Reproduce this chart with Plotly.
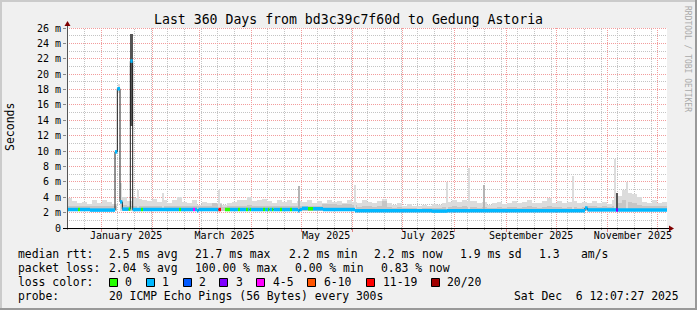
import math
import plotly.graph_objects as go
import pandas as pd

# ---------------- data ----------------
T0 = pd.Timestamp("2024-12-11 12:07:27")
T1 = pd.Timestamp("2025-12-06 12:07:27")
SPAN_DAYS = 360

LOSS_LABELS = ["0", "1", "2", "3", "4-5", "6-10", "11-19", "20/20"]
LOSS_COLORS = ["#26ff00", "#00b8ff", "#0059ff", "#7e00ff", "#ff00ff", "#ff5500", "#ff0000", "#a10000"]

# median rtt (ms) as segments: start (days after T0), value, loss class index
med_start = [0.0, 6.6, 7.8, 13.8, 28.8, 30.2, 31.8, 33.2, 36.9, 38.0, 39.4, 44.4, 45.6,
             67.2, 68.4, 75.6, 76.8, 78.0, 78.9, 90.9, 92.4, 94.8, 97.8, 102.6, 103.8,
             107.4, 108.6, 109.5, 110.4, 117.6, 118.8, 120.6, 121.5, 123.0, 123.9, 127.8,
             129.0, 133.8, 135.0, 138.6, 139.5, 141.0, 144.6, 147.6, 153.6, 172.8, 219.0,
             228.0, 310.8, 312.3, 329.4, 330.6]
med_value = [2.40, 2.40, 2.40, 2.33, 9.9, 18.1, 3.4, 2.45, 2.45, 21.7, 2.40, 2.40, 2.40,
             2.40, 2.40, 2.40, 2.40, 2.25, 2.40, 2.40, None, 2.40, 2.40, 2.40, 2.40,
             2.40, 2.40, 2.40, 2.40, 2.40, 2.40, 2.40, 2.40, 2.40, 2.40, 2.40,
             2.40, 2.40, 2.40, 2.25, 2.40, 2.55, 2.50, 2.50, 2.40, 2.25, 2.20,
             2.25, 2.60, 2.35, 2.35, 2.35]
med_loss = [1, 0, 1, 1, 1, 1, 1, 1, 0, 1, 1, 0, 1,
            0, 1, 4, 1, 1, 1, 6, None, 0, 1, 0, 1,
            0, 1, 0, 1, 0, 1, 0, 1, 0, 1, 0,
            1, 0, 1, 1, 1, 1, 0, 1, 1, 1, 1,
            1, 1, 1, 3, 1]

# smoke (ms), 3-day buckets
SMOKE_FLOOR = 2.15
smoke_top = [3.9, 3.5, 3.2, 3.4, 3.1, 3.6, 3.3, 3.7, 3.4, 3.1,
             None, 4.0, 3.5, 3.9, 3.8, 3.7, 3.5, 3.8, 3.4, 3.6,
             3.3, 3.6, 4.0, 3.4, 3.2, 3.7, 3.0, 3.4, 3.3, 3.2,
             3.3, 3.0, 3.3, 3.4, 3.7, 3.6, 4.0, 3.5, 3.6, 3.8,
             3.5, 3.3, 3.7, 3.4, 3.6, 3.3, 3.5, 3.4, 3.6, 3.2,
             3.5, 3.3, 3.6, 3.4, 3.5, 3.3, 3.6, 3.4, 3.3, 3.6,
             3.4, 3.2, 3.5, 3.8, 3.3, 3.0, 3.2, 2.9, 3.1, 2.9,
             2.8, 3.0, 2.9, 3.1, 3.0, 3.3, 3.4, 3.6, 3.4, 3.7,
             3.5, 3.5, 3.2, 3.4, 3.0, 3.2, 3.4, 3.1, 3.3, 3.5,
             3.2, 3.4, 3.6, 3.3, 3.2, 3.5, 3.9, 3.3, 3.5, 3.2,
             3.4, 3.5, 3.2, 3.4, 3.3, 3.5, 3.2, 3.4, 3.1, 3.6,
             4.2, 5.0, 4.6, 4.4, 4.0, 3.4, 3.3, 3.7, 3.2, 3.4]
smoke_mid = [2.9, 2.8, 2.8, 2.9, 2.8, 2.9, 2.8, 2.9, 2.8, 2.8,
             None, 3.0, 2.8, 2.9, 2.9, 2.8, 2.8, 2.9, 2.8, 2.9,
             2.8, 2.9, 2.9, 2.8, 2.8, 2.9, 2.8, 2.8, 2.9, 3.2,
             3.1, 2.7, 2.8, 2.8, 2.9, 2.9, 3.0, 2.8, 2.9, 2.9,
             2.8, 2.8, 2.9, 2.8, 2.9, 2.8, 2.9, 2.8, 2.9, 2.8,
             2.9, 3.1, 3.1, 3.1, 3.0, 3.1, 3.1, 3.0, 2.7, 2.8,
             2.8, 2.7, 2.8, 3.5, 2.7, 2.6, 2.7, 2.6, 2.6, 2.6,
             2.5, 2.6, 2.6, 2.6, 2.6, 2.7, 2.7, 2.8, 2.7, 2.8,
             2.7, 2.7, 2.6, 2.7, 2.6, 2.6, 2.7, 2.6, 2.7, 2.7,
             2.6, 2.7, 2.8, 2.7, 2.6, 2.7, 2.8, 2.7, 2.7, 2.6,
             2.7, 2.7, 2.6, 2.7, 2.8, 2.8, 2.7, 2.8, 2.7, 2.8,
             3.3, 3.6, 3.4, 3.2, 3.0, 2.8, 2.8, 2.9, 2.8, 2.8]

# thin smoke spikes: day, top (ms), shade index (0 light, 1 mid)
spike_day = [32.4, 42.6, 57.6, 91.2, 139.2, 172.8, 228.0, 241.2, 250.2, 303.6, 328.8, 336.0]
spike_top = [5.8, 4.9, 4.6, 4.9, 5.4, 5.6, 6.0, 7.8, 5.6, 6.7, 9.0, 6.0]
spike_shade = [0, 0, 0, 0, 1, 0, 0, 0, 1, 0, 0, 0]

# smoke blocks during outliers: start day, end day, low, high, shade index (0 light, 2 dark)
block_start = [30.3, 38.0, 329.4]
block_end = [31.8, 39.6, 330.6]
block_lo = [17.6, 13.3, 2.4]
block_hi = [18.7, 25.2, 4.6]
block_shade = [0, 2, 2]
SHADES = ["#dcdcdc", "#b4b4b4", "#555555"]

y_ticks = list(range(0, 27, 2))
y_minor = list(range(1, 27, 2))
y_ticktext = ["0"] + [f"{v} m" for v in y_ticks[1:]]
x_tick_dates = ["2025-01-16", "2025-03-16", "2025-05-16", "2025-07-16", "2025-09-16", "2025-11-16"]
x_tick_text = ["January 2025", "March 2025", "May 2025", "July 2025", "September 2025", "November 2025"]

title_text = "Last 360 Days from bd3c39c7f60d to Gedung Astoria"
legend_rows = [
    [("median rtt:", 16), ("2.5 ms avg", 107), ("21.7 ms max", 193), ("2.2 ms min", 287),
     ("2.2 ms now", 372), ("1.9 ms sd", 458), ("1.3", 537), ("am/s", 579)],
    [("packet loss:", 16), ("2.04 % avg", 107), ("100.00 % max", 193), ("0.00 % min", 293),
     ("0.83 % now", 379)],
    [("loss color:", 16)],
    [("probe:", 16), ("20 ICMP Echo Pings (56 Bytes) every 300s", 107)],
]
loss_box_x = [109, 146, 183, 219, 256, 307, 366, 431]
loss_text_x = [123, 160, 197, 234, 271, 322, 381, 445]
stamp_text = "Sat Dec  6 12:07:27 2025"

# ---------------- helpers ----------------
FONT = "DejaVu Sans Mono"
W, H = 697, 310
L, T, PW, PH = 67, 28, 600, 200
MAJ = "#f29c9c"
MIN = "#c4c4c4"
DOTS = "1px,1px"


def d2t(d):
    return T0 + pd.to_timedelta(d, unit="D")


def px(x):
    return (x - L) / PW


def py(y):
    return (T + PH - y) / PH


def snap_t(t):
    p = L + (t - T0) / (T1 - T0) * PW
    p = math.floor(p) + 0.5
    return T0 + (T1 - T0) * ((p - L) / PW)


def snap_v(v):
    p = T + PH - v * PH / 26
    p = math.floor(p) + 0.5
    return (T + PH - p) / PH * 26


DAY_MS = 86400000

fig = go.Figure()

# smoke buckets
centers = [d2t(1.5 + 3 * i) for i in range(len(smoke_top))]
fig.add_trace(go.Bar(x=centers, base=[SMOKE_FLOOR] * len(smoke_top),
                     y=[None if v is None else v - SMOKE_FLOOR for v in smoke_top],
                     width=3 * DAY_MS, marker=dict(color=SHADES[0], line=dict(width=0)),
                     hoverinfo="skip"))
fig.add_trace(go.Bar(x=centers, base=[SMOKE_FLOOR] * len(smoke_mid),
                     y=[None if v is None else v - SMOKE_FLOOR for v in smoke_mid],
                     width=3 * DAY_MS, marker=dict(color="#c6c6c6", line=dict(width=0)),
                     hoverinfo="skip"))
# thin spikes
fig.add_trace(go.Bar(x=[d2t(d) for d in spike_day], base=[SMOKE_FLOOR] * len(spike_day),
                     y=[v - SMOKE_FLOOR for v in spike_top], width=0.9 * DAY_MS,
                     marker=dict(color=[SHADES[s] for s in spike_shade], line=dict(width=0)),
                     hoverinfo="skip"))
# outlier blocks
fig.add_trace(go.Bar(x=[d2t((a + b) / 2) for a, b in zip(block_start, block_end)],
                     base=block_lo, y=[h - l for h, l in zip(block_hi, block_lo)],
                     width=[(b - a) * DAY_MS for a, b in zip(block_start, block_end)],
                     marker=dict(color=[SHADES[s] for s in block_shade], line=dict(width=0)),
                     hoverinfo="skip"))

# median thin dark line
seg_end = med_start[1:] + [SPAN_DAYS]
lx, ly = [], []
for s, e, v in zip(med_start, seg_end, med_value):
    if v is None:
        lx.append(None)
        ly.append(None)
        continue
    lx += [d2t(s), d2t(e)]
    ly += [v, v]
fig.add_trace(go.Scatter(x=lx, y=ly, mode="lines", line=dict(color="#202020", width=1),
                         connectgaps=False, hoverinfo="skip"))

# loss coloured median bands
for ci, col in enumerate(LOSS_COLORS):
    cx, cy = [], []
    for s, e, v, c in zip(med_start, seg_end, med_value, med_loss):
        if c == ci and v is not None:
            cx += [d2t(s), d2t(e), None]
            cy += [v, v, None]
    if cx:
        fig.add_trace(go.Scatter(x=cx, y=cy, mode="lines", line=dict(color=col, width=3.5),
                                 connectgaps=False, hoverinfo="skip"))

# dummy trace to carry the label axis
fig.add_trace(go.Scatter(x=[T0, T1], y=[None, None], xaxis="x2", mode="lines", hoverinfo="skip"))

month_lines = list(pd.date_range("2025-01-01", "2025-12-01", freq="MS"))
minor_lines = [pd.Timestamp("2025-01-01") + pd.Timedelta(days=10 * k) for k in range(-2, 34)]
minor_lines = [t for t in minor_lines if T0 < t < T1 and t not in month_lines]

shapes = []
# minor vertical grid (gray dotted) in data coordinates, below the traces
for t in minor_lines:
    st = snap_t(t)
    shapes.append(dict(type="line", xref="x", yref="y", x0=st, x1=st, y0=0, y1=26,
                       line=dict(color=MIN, width=1, dash=DOTS), layer="below"))
    shapes.append(dict(type="line", xref="x", yref="paper", x0=st, x1=st, y0=py(228), y1=py(230),
                       line=dict(color="#999999", width=1), layer="above"))
# horizontal grid: gray at odd, red at even values
for v in range(1, 27):
    sv = snap_v(v)
    shapes.append(dict(type="line", xref="x", yref="y", x0=T0, x1=T1, y0=sv, y1=sv,
                       line=dict(color=MAJ if v % 2 == 0 else MIN, width=1, dash=DOTS), layer="below"))

# frame
shapes.append(dict(type="line", xref="paper", yref="paper", x0=px(0), x1=px(W), y0=py(1), y1=py(1),
                   line=dict(color="#cbcbcb", width=2), layer="above"))
shapes.append(dict(type="line", xref="paper", yref="paper", x0=px(1), x1=px(1), y0=py(0), y1=py(H),
                   line=dict(color="#cbcbcb", width=2), layer="above"))
shapes.append(dict(type="line", xref="paper", yref="paper", x0=px(0), x1=px(W), y0=py(H - 1), y1=py(H - 1),
                   line=dict(color="#999999", width=2), layer="above"))
shapes.append(dict(type="line", xref="paper", yref="paper", x0=px(W - 1), x1=px(W - 1), y0=py(0), y1=py(H),
                   line=dict(color="#999999", width=2), layer="above"))

# axes + arrows
shapes.append(dict(type="line", xref="paper", yref="paper", x0=px(67.5), x1=px(67.5), y0=py(229), y1=py(24),
                   line=dict(color="#555555", width=1), layer="above"))
shapes.append(dict(type="line", xref="paper", yref="paper", x0=px(63), x1=px(670), y0=py(228.5), y1=py(228.5),
                   line=dict(color="#000000", width=1), layer="above"))
shapes.append(dict(type="path", xref="paper", yref="paper",
                   path=f"M {px(64.5)} {py(26)} L {px(70.5)} {py(26)} L {px(67.5)} {py(21)} Z",
                   fillcolor="#7f0000", line=dict(width=0), layer="above"))
shapes.append(dict(type="path", xref="paper", yref="paper",
                   path=f"M {px(669)} {py(225.5)} L {px(669)} {py(231.5)} L {px(674)} {py(228.5)} Z",
                   fillcolor="#7f0000", line=dict(width=0), layer="above"))

# legend boxes
for bx, col in zip(loss_box_x, LOSS_COLORS):
    shapes.append(dict(type="rect", xref="paper", yref="paper", x0=px(bx + 0.5), x1=px(bx + 8.5),
                       y0=py(286.5), y1=py(278.5), fillcolor=col, line=dict(color="#000000", width=1)))

annotations = []
annotations.append(dict(text=title_text, xref="paper", yref="paper", x=px(348), y=py(19),
                        xanchor="center", yanchor="middle", showarrow=False,
                        font=dict(family=FONT, size=13.2, color="#000000")))
annotations.append(dict(text="Seconds", xref="paper", yref="paper", x=px(10), y=py(127),
                        xanchor="center", yanchor="middle", showarrow=False, textangle=-90,
                        font=dict(family=FONT, size=11.5, color="#000000")))
annotations.append(dict(text="RRDTOOL / TOBI OETIKER", xref="paper", yref="paper", x=px(688), y=py(59),
                        xanchor="center", yanchor="middle", showarrow=False, textangle=90,
                        font=dict(family=FONT, size=8, color="#aaaaaa")))
row_y = [254, 268, 282, 296]
for ry, row in zip(row_y, legend_rows):
    for txt, tx in row:
        annotations.append(dict(text=txt.replace(" ", "\u00a0"), xref="paper", yref="paper",
                                x=px(tx), y=py(ry), xanchor="left", yanchor="middle",
                                showarrow=False, font=dict(family=FONT, size=11.4, color="#000000")))
for lab, tx in zip(LOSS_LABELS, loss_text_x):
    annotations.append(dict(text=lab, xref="paper", yref="paper", x=px(tx), y=py(282),
                            xanchor="left", yanchor="middle", showarrow=False,
                            font=dict(family=FONT, size=11.4, color="#000000")))
annotations.append(dict(text=stamp_text.replace(" ", "\u00a0"), xref="paper", yref="paper",
                        x=px(681), y=py(296), xanchor="right", yanchor="middle", showarrow=False,
                        font=dict(family=FONT, size=11.4, color="#000000")))

fig.update_layout(
    width=W, height=H,
    margin=dict(l=L, r=W - L - PW, t=T, b=H - T - PH, pad=0),
    paper_bgcolor="#f0f0f0", plot_bgcolor="#ffffff",
    showlegend=False, barmode="overlay", bargap=0,
    shapes=shapes, annotations=annotations,
    xaxis=dict(type="date", range=[T0, T1], zeroline=False, showline=False,
               tickmode="array", tickvals=[snap_t(t) for t in month_lines], showticklabels=False,
               showgrid=True, gridcolor=MAJ, griddash=DOTS, gridwidth=1,
               ticks="outside", ticklen=3, tickcolor="#e08080", fixedrange=True),
    xaxis2=dict(type="date", range=[T0, T1], overlaying="x", anchor="y", side="bottom",
                showgrid=False, zeroline=False, showline=False,
                tickmode="array", tickvals=pd.to_datetime(x_tick_dates), ticktext=x_tick_text, ticks="",
                tickfont=dict(family=FONT, size=10, color="#000000"), fixedrange=True),
    yaxis=dict(range=[0, 26], tickmode="array", tickvals=[0] + [snap_v(v) for v in y_ticks[1:]],
               ticktext=y_ticktext, showgrid=False,
               zeroline=False, showline=False, ticks="outside", ticklen=3, tickcolor="#888888",
               tickfont=dict(family=FONT, size=10, color="#000000"), fixedrange=True),
)

fig.write_html("out.html")
